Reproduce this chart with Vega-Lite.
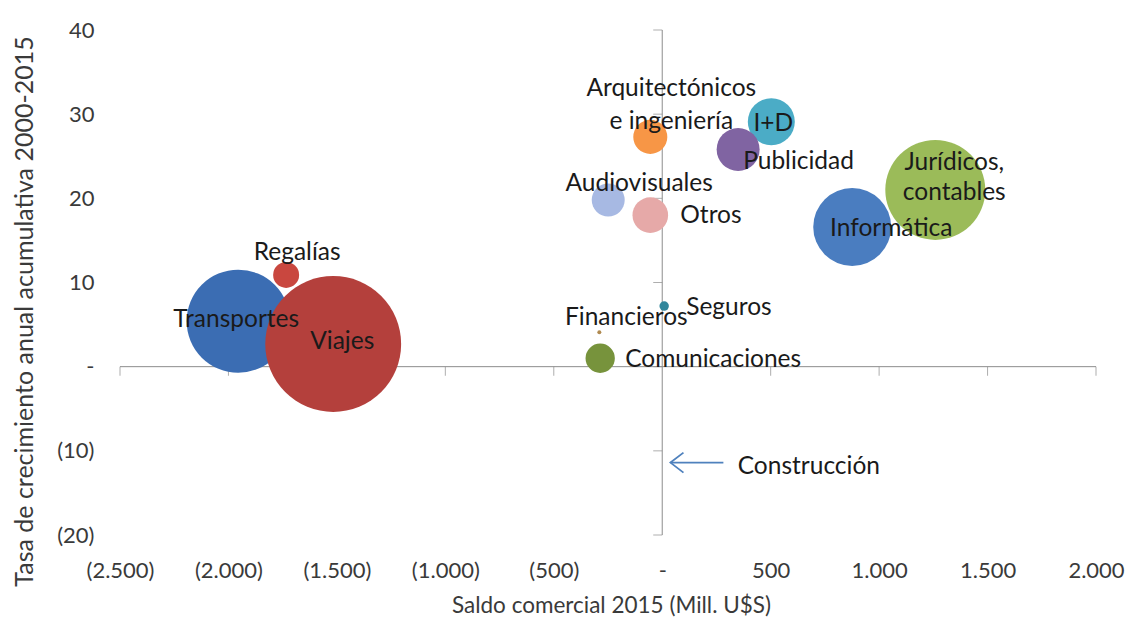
{
  "$schema": "https://vega.github.io/schema/vega-lite/v6.json",
  "width": 976,
  "height": 505,
  "autosize": {"type": "none"},
  "padding": {"left": 120, "top": 30, "right": 32, "bottom": 86},
  "background": "white",
  "config": {
    "view": {"stroke": null},
    "font": "Lato",
    "axis": {"grid": false, "domain": false, "ticks": false, "tickSize": 0, "labelFont": "Lato", "titleFont": "Lato", "labelColor": "#3a3a3a", "titleColor": "#3a3a3a", "titleFontWeight": "normal", "labelFlush": false, "labelOverlap": false}
  },
  "datasets": {
    "servicios": [
      {"sector": "Informática", "label": "Informática", "saldo": 876, "tasa": 16.6, "volumen": 955},
      {"sector": "Jurídicos, contables", "label": "Jurídicos,\ncontables", "saldo": 1259, "tasa": 21.0, "volumen": 1570},
      {"sector": "Transportes", "label": "Transportes", "saldo": -1955, "tasa": 5.4, "volumen": 1670},
      {"sector": "Viajes", "label": "Viajes", "saldo": -1517, "tasa": 2.7, "volumen": 2900},
      {"sector": "Regalías", "label": "Regalías", "saldo": -1734, "tasa": 10.9, "volumen": 106},
      {"sector": "Arquitectónicos e ingeniería", "label": "Arquitectónicos\ne ingeniería", "saldo": -55, "tasa": 27.3, "volumen": 182},
      {"sector": "I+D", "label": "I+D", "saldo": 503, "tasa": 29.1, "volumen": 347},
      {"sector": "Publicidad", "label": "Publicidad", "saldo": 350, "tasa": 25.8, "volumen": 290},
      {"sector": "Audiovisuales", "label": "Audiovisuales", "saldo": -249, "tasa": 19.8, "volumen": 171},
      {"sector": "Otros", "label": "Otros", "saldo": -55, "tasa": 18.0, "volumen": 199},
      {"sector": "Seguros", "label": "Seguros", "saldo": 9, "tasa": 7.2, "volumen": 14},
      {"sector": "Financieros", "label": "Financieros", "saldo": -290, "tasa": 4.1, "volumen": 2.5},
      {"sector": "Comunicaciones", "label": "Comunicaciones", "saldo": -286, "tasa": 1.0, "volumen": 135},
      {"sector": "Construcción", "label": "Construcción", "saldo": 30, "tasa": -11.4, "volumen": 0}
    ],
    "xticks": [{"v": -2500}, {"v": -2000}, {"v": -1500}, {"v": -1000}, {"v": -500}, {"v": 500}, {"v": 1000}, {"v": 1500}, {"v": 2000}],
    "yticks": [{"v": -20}, {"v": -10}, {"v": 0}, {"v": 10}, {"v": 20}, {"v": 30}, {"v": 40}],
    "uno": [{"n": 1}]
  },
  "layer": [
    {
      "data": {"name": "uno"},
      "mark": {"type": "rule", "color": "#8c8c8c", "strokeWidth": 1},
      "encoding": {"y": {"datum": 0}, "x": {"datum": -2500}, "x2": {"datum": 2000}}
    },
    {
      "data": {"name": "uno"},
      "mark": {"type": "rule", "color": "#8c8c8c", "strokeWidth": 1},
      "encoding": {"x": {"datum": 0}, "y": {"datum": -20}, "y2": {"datum": 40}}
    },
    {
      "data": {"name": "xticks"},
      "mark": {"type": "tick", "orient": "vertical", "size": 9, "thickness": 1, "color": "#8c8c8c", "yOffset": 4.5},
      "encoding": {"x": {"field": "v", "type": "quantitative"}, "y": {"datum": 0}}
    },
    {
      "data": {"name": "yticks"},
      "mark": {"type": "tick", "orient": "horizontal", "size": 9, "thickness": 1, "color": "#8c8c8c", "xOffset": -4.5},
      "encoding": {"y": {"field": "v", "type": "quantitative"}, "x": {"datum": 0}}
    },
    {
      "data": {"name": "servicios"},
      "mark": {"type": "circle", "opacity": 1, "stroke": null},
      "encoding": {
        "x": {
          "field": "saldo", "type": "quantitative",
          "scale": {"domain": [-2500, 2000], "nice": false, "zero": false},
          "axis": {
            "values": [-2500, -2000, -1500, -1000, -500, 0, 500, 1000, 1500, 2000],
            "labelExpr": "datum.value == 0 ? '-' : (datum.value < 0 ? '(' + replace(format(-datum.value, ','), ',', '.') + ')' : replace(format(datum.value, ','), ',', '.'))",
            "labelFontSize": 22, "labelBaseline": "middle", "labelPadding": 35,
            "title": "Saldo comercial 2015 (Mill. U$S)", "titleFontSize": 22.5,
            "titleX": 491, "titleY": 70, "titleBaseline": "middle", "titleAlign": "center"
          }
        },
        "y": {
          "field": "tasa", "type": "quantitative",
          "scale": {"domain": [-20, 40], "nice": false, "zero": false},
          "axis": {
            "values": [-20, -10, 0, 10, 20, 30, 40],
            "labelExpr": "datum.value == 0 ? '-' : (datum.value < 0 ? '(' + (-datum.value) + ')' : '' + datum.value)",
            "labelFontSize": 22, "labelAlign": "right", "labelBaseline": "middle", "labelPadding": 26,
            "title": "Tasa de crecimiento anual acumulativa 2000-2015", "titleFontSize": 25,
            "titleX": -96, "titleY": 281, "titleAngle": 270, "titleBaseline": "middle", "titleAlign": "center"
          }
        },
        "size": {"field": "volumen", "type": "quantitative", "scale": {"domain": [0, 3000], "range": [0, 19099]}, "legend": null},
        "color": {
          "field": "sector", "type": "nominal", "legend": null,
          "scale": {
            "domain": ["Informática", "Jurídicos, contables", "Transportes", "Viajes", "Regalías", "Arquitectónicos e ingeniería", "I+D", "Publicidad", "Audiovisuales", "Otros", "Seguros", "Financieros", "Comunicaciones", "Construcción"],
            "range": ["#4a7dc0", "#9bbb59", "#3b6db3", "#b4403c", "#c9473f", "#f79646", "#4bacc6", "#8064a2", "#a7b9e3", "#e6a9a8", "#31869b", "#b08a50", "#77933c", "#4f81bd"]
          }
        }
      }
    },
    {
      "data": {"name": "uno"},
      "mark": {"type": "rule", "color": "#4f81bd", "strokeWidth": 1.8},
      "encoding": {"y": {"datum": -11.4}, "x": {"datum": 38}, "x2": {"datum": 282}}
    },
    {
      "data": {"name": "uno"},
      "mark": {"type": "point", "shape": "M 1.3 -1 L 0 0 L 1.3 1", "filled": false, "stroke": "#4f81bd", "strokeWidth": 1.8, "size": 400, "opacity": 1},
      "encoding": {"y": {"datum": -11.4}, "x": {"datum": 38}}
    },
    {
      "data": {"name": "servicios"},
      "encoding": {
        "x": {"field": "saldo", "type": "quantitative"},
        "y": {"field": "tasa", "type": "quantitative"},
        "text": {"field": "label"}
      },
      "layer": [
        {"transform": [{"filter": "datum.sector == 'Transportes'"}], "mark": {"type": "text", "font": "Lato", "fontSize": 24.5, "color": "#1a1a1a", "align": "center", "baseline": "middle", "dx": -2, "dy": -1}},
        {"transform": [{"filter": "datum.sector == 'Viajes'"}], "mark": {"type": "text", "font": "Lato", "fontSize": 24.5, "color": "#1a1a1a", "align": "center", "baseline": "middle", "dx": 9, "dy": -2}},
        {"transform": [{"filter": "datum.sector == 'Regalías'"}], "mark": {"type": "text", "font": "Lato", "fontSize": 24.5, "color": "#1a1a1a", "align": "center", "baseline": "middle", "dx": 11, "dy": -22}},
        {"transform": [{"filter": "datum.sector == 'Arquitectónicos e ingeniería'"}], "mark": {"type": "text", "font": "Lato", "fontSize": 24.5, "color": "#1a1a1a", "align": "center", "baseline": "middle", "lineBreak": "\n", "lineHeight": 33, "dx": 21, "dy": -48}},
        {"transform": [{"filter": "datum.sector == 'I+D'"}], "mark": {"type": "text", "font": "Lato", "fontSize": 24.5, "color": "#1a1a1a", "align": "center", "baseline": "middle", "dx": 2, "dy": 2}},
        {"transform": [{"filter": "datum.sector == 'Publicidad'"}], "mark": {"type": "text", "font": "Lato", "fontSize": 24.5, "color": "#1a1a1a", "align": "left", "baseline": "middle", "dx": 5, "dy": 12}},
        {"transform": [{"filter": "datum.sector == 'Audiovisuales'"}], "mark": {"type": "text", "font": "Lato", "fontSize": 24.5, "color": "#1a1a1a", "align": "center", "baseline": "middle", "dx": 31, "dy": -16}},
        {"transform": [{"filter": "datum.sector == 'Otros'"}], "mark": {"type": "text", "font": "Lato", "fontSize": 24.5, "color": "#1a1a1a", "align": "left", "baseline": "middle", "dx": 30, "dy": 1}},
        {"transform": [{"filter": "datum.sector == 'Informática'"}], "mark": {"type": "text", "font": "Lato", "fontSize": 24.5, "color": "#1a1a1a", "align": "center", "baseline": "middle", "dx": 39, "dy": 2}},
        {"transform": [{"filter": "datum.sector == 'Jurídicos, contables'"}], "mark": {"type": "text", "font": "Lato", "fontSize": 24.5, "color": "#1a1a1a", "align": "center", "baseline": "middle", "lineBreak": "\n", "lineHeight": 30, "dx": 19, "dy": -27}},
        {"transform": [{"filter": "datum.sector == 'Seguros'"}], "mark": {"type": "text", "font": "Lato", "fontSize": 24.5, "color": "#1a1a1a", "align": "left", "baseline": "middle", "dx": 22, "dy": 2}},
        {"transform": [{"filter": "datum.sector == 'Financieros'"}], "mark": {"type": "text", "font": "Lato", "fontSize": 24.5, "color": "#1a1a1a", "align": "center", "baseline": "middle", "dx": 27, "dy": -14}},
        {"transform": [{"filter": "datum.sector == 'Comunicaciones'"}], "mark": {"type": "text", "font": "Lato", "fontSize": 24.5, "color": "#1a1a1a", "align": "left", "baseline": "middle", "dx": 25, "dy": 2}},
        {"transform": [{"filter": "datum.sector == 'Construcción'"}], "mark": {"type": "text", "font": "Lato", "fontSize": 24.5, "color": "#1a1a1a", "align": "left", "baseline": "middle", "dx": 69, "dy": 4}}
      ]
    }
  ]
}
